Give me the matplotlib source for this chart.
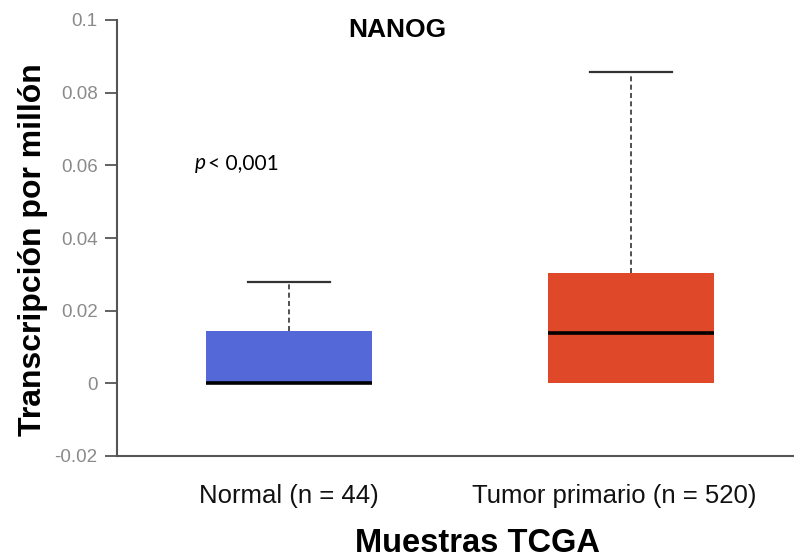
import matplotlib
matplotlib.use("Agg")
import matplotlib.pyplot as plt
import matplotlib.transforms as mtransforms

categories = ["Normal (n = 44)", "Tumor primario (n = 520)"]
q1 = [0.0, 0.0]
medians = [0.0, 0.0138]
q3 = [0.0143, 0.0303]
whisker_low = [0.0, 0.0]
whisker_high = [0.0278, 0.0858]
colors = ["#5568D8", "#E0482A"]
yticks = [-0.02, 0, 0.02, 0.04, 0.06, 0.08, 0.1]
ytick_labels = ["-0.02", "0", "0.02", "0.04", "0.06", "0.08", "0.1"]

plt.rcParams['font.family'] = ['Liberation Sans', 'DejaVu Sans']

fig = plt.figure(figsize=(7.94, 5.57), dpi=100)
ax = fig.add_axes([117/794, 1-456/557, 1-117/794, (456-20)/557])

stats = []
for i, c in enumerate(categories):
    stats.append(dict(label=c, q1=q1[i], med=medians[i], q3=q3[i],
                      whislo=whisker_low[i], whishi=whisker_high[i], fliers=[]))
positions = [1, 2]
bp = ax.bxp(stats, positions=positions, widths=0.485, patch_artist=True,
            showfliers=False, capwidths=0.24,
            boxprops=dict(linewidth=0),
            medianprops=dict(color="black", linewidth=2.6, solid_capstyle="butt"),
            whiskerprops=dict(color="#333333", linestyle=(0, (3, 2)), linewidth=1.2),
            capprops=dict(color="#333333", linewidth=1.6))
for patch, col in zip(bp["boxes"], colors):
    patch.set_facecolor(col)
    patch.set_edgecolor(col)
# lower caps are not drawn in the reference
for cap in bp["caps"][0::2]:
    cap.set_visible(False)

ax.set_xlim(0.497, 2.477)
ax.set_ylim(-0.02, 0.1)
ax.set_yticks(yticks)
ax.set_yticklabels(ytick_labels)
ax.tick_params(axis="y", length=9, width=1.3, color="#555555", labelcolor="#8a8a8a",
               labelsize=13.5, pad=5)
ax.tick_params(axis="x", length=0, labelsize=18.5, labelcolor="#111111", pad=20)
for s in ["top", "right"]:
    ax.spines[s].set_visible(False)
for s in ["left", "bottom"]:
    ax.spines[s].set_color("#555555")
    ax.spines[s].set_linewidth(1.5)

# second category label sits slightly left of its box in the reference
lbl = ax.get_xticklabels()[1]
lbl.set_transform(lbl.get_transform() + mtransforms.ScaledTranslation(-0.17, 0, fig.dpi_scale_trans))

fig.text(33/794, 1-250/557, "Transcripción por millón", fontsize=23, fontweight="bold",
         rotation=90, ha="center", va="center")
fig.text(477/794, 1-543/557, "Muestras TCGA", fontsize=23.5, fontweight="bold",
         ha="center", va="center")
fig.text(397/794, 1-30/557, "NANOG", fontsize=19, fontweight="bold",
         ha="center", va="center")
fig.text(195/794, 1-163/557, "p", fontsize=15, style="italic", ha="left", va="center",
         family=["Lato", "DejaVu Sans"])
fig.text(208/794, 1-163/557, "< 0,001", fontsize=15, ha="left", va="center",
         family=["Lato", "DejaVu Sans"])

fig.savefig("out.png", dpi=100, facecolor="white")
